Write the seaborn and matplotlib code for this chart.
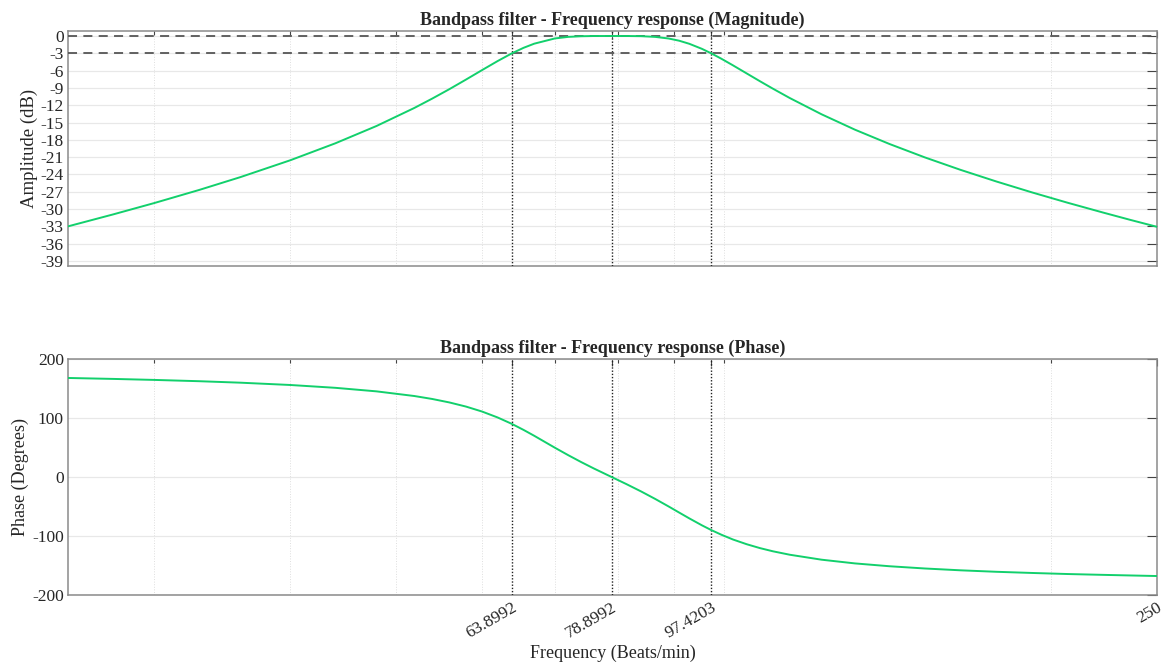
import matplotlib
matplotlib.use("Agg")
import matplotlib.pyplot as plt
import matplotlib.ticker as mticker
import numpy as np
import pandas as pd
import seaborn as sns

# Frequency axis (beats/min) and the filter response read at each point
freq = [25, 27.5, 30, 33, 36, 40, 44, 48, 52, 54, 56, 58, 60, 62, 63.8992,
        65.5, 67, 70, 72, 74, 76, 78.8992, 81.5, 84, 86.5, 89, 91, 93, 95.5,
        97.4203, 99.5, 102, 105, 108, 111, 115, 123, 132, 142, 153, 165, 178,
        192, 207, 223, 236, 250]
magnitude_db = [-33.00, -30.93, -28.96, -26.68, -24.46, -21.54, -18.60, -15.60,
                -12.47, -10.85, -9.21, -7.55, -5.91, -4.35, -3.01, -2.05, -1.33,
                -0.42, -0.15, -0.04, -0.00, 0.00, -0.00, -0.03, -0.15, -0.43,
                -0.81, -1.35, -2.22, -3.01, -3.93, -5.09, -6.49, -7.85, -9.14,
                -10.75, -13.57, -16.24, -18.72, -21.04, -23.20, -25.22, -27.12,
                -28.91, -30.60, -31.85, -33.08]
phase_deg = [167.8, 166.2, 164.5, 162.3, 159.8, 155.9, 151.1, 145.1, 137.2,
             132.2, 126.3, 119.3, 110.9, 100.9, 90.0, 79.8, 69.8, 49.5, 36.9,
             25.2, 14.4, 0.0, -12.5, -24.6, -37.1, -49.9, -60.2, -70.2, -81.9,
             -90.0, -97.8, -106.0, -114.0, -120.6, -126.0, -131.8, -140.2,
             -146.5, -151.3, -155.1, -158.2, -160.7, -162.7, -164.5, -165.9,
             -166.9, -167.9]

# Band edges and centre frequency
marker_freqs = [63.8992, 78.8992, 97.4203]
xtick_values = [63.8992, 78.8992, 97.4203, 250]
xtick_labels = ["63.8992", "78.8992", "97.4203", "250"]
minor_ticks = [30, 40, 50, 60, 70, 80, 90, 100, 200]
ref_levels_db = [0, -3]
mag_ticks = list(range(0, -40, -3))
phase_ticks = [200, 100, 0, -100, -200]

df = pd.DataFrame({"freq": freq, "mag": magnitude_db, "phase": phase_deg})

sns.set_theme(style="white")
plt.rcParams["font.family"] = ["Liberation Serif", "DejaVu Serif"]
plt.rcParams["axes.unicode_minus"] = False

LINE = "#12d06c"
SPINE = "#8a8a8a"
GRID = "#e8e8e8"

fig = plt.figure(figsize=(11.68, 6.65), dpi=100)
ax1 = fig.add_axes([0.0582, 0.600, 0.9324, 0.3534])
ax2 = fig.add_axes([0.0582, 0.1053, 0.9324, 0.3549])


def style_axis(ax):
    ax.set_xscale("log")
    ax.set_xlim(25, 250)
    ax.xaxis.set_major_locator(mticker.FixedLocator(xtick_values))
    ax.xaxis.set_minor_locator(mticker.FixedLocator(minor_ticks))
    ax.xaxis.set_minor_formatter(mticker.NullFormatter())
    ax.grid(True, axis="y", which="major", color=GRID, lw=0.9, ls="-")
    ax.grid(True, axis="x", which="minor", color="#dedede", lw=0.7, ls=":")
    ax.set_axisbelow(True)
    for s in ax.spines.values():
        s.set_color(SPINE)
        s.set_linewidth(1.1)
    ax.tick_params(axis="both", which="both", direction="in", top=True,
                   right=True, colors="#444444", labelcolor="#262626",
                   labelsize=12.5)
    ax.tick_params(axis="y", which="major", length=7, width=0.8, pad=3)
    ax.tick_params(axis="x", which="major", length=5, width=0.8)
    ax.tick_params(axis="x", which="minor", length=3, width=0.8)
    for f in marker_freqs:
        ax.axvline(f, color="#222222", ls=(0, (1, 1.3)), lw=1.0, zorder=3)


# Magnitude response
style_axis(ax1)
for lvl in ref_levels_db:
    ax1.axhline(lvl, color="#555555", ls=(0, (5, 3.5)), lw=1.3, zorder=3)
sns.lineplot(data=df, x="freq", y="mag", ax=ax1, color=LINE, lw=1.4,
             zorder=4, sort=False)
ax1.set_ylim(-39.87, 0.87)
ax1.set_yticks(mag_ticks)
ax1.set_xticklabels([])
ax1.set_xlabel("")
ax1.set_ylabel("Amplitude (dB)", fontsize=13.5, color="#262626", labelpad=2)
ax1.set_title("Bandpass filter - Frequency response (Magnitude)",
              fontsize=13, fontweight="bold", pad=4)

# Phase response
style_axis(ax2)
sns.lineplot(data=df, x="freq", y="phase", ax=ax2, color=LINE, lw=1.4,
             zorder=4, sort=False)
ax2.set_ylim(-200, 200)
ax2.set_yticks(phase_ticks)
ax2.set_xticks(xtick_values)
ax2.set_xticklabels(xtick_labels, rotation=30, ha="right",
                    rotation_mode="anchor")
ax2.set_xlabel("Frequency (Beats/min)", fontsize=13, color="#262626",
               labelpad=2)
ax2.set_ylabel("Phase (Degrees)", fontsize=13, color="#262626", labelpad=2)
ax2.set_title("Bandpass filter - Frequency response (Phase)",
              fontsize=13, fontweight="bold", pad=4)

fig.savefig("out.png", dpi=100)
